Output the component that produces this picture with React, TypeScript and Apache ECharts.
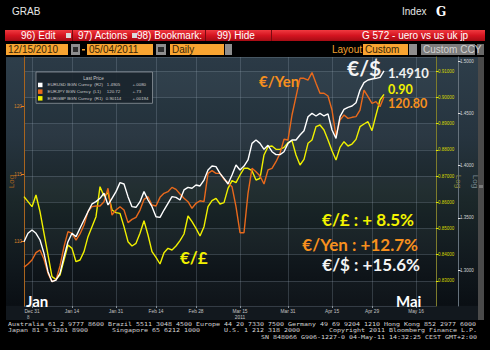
import React, { useEffect, useRef } from "react";
import * as echarts from "echarts";

// ---- data (daily closes, Dec 29 2010 .. May 4 2011, weekdays) ----
const USD = [
  1.3271, 1.3351, 1.3383, 1.3351, 1.3287, 1.3159, 1.2984, 1.2888, 1.2904, 1.2968,
  1.3128, 1.3271, 1.3351, 1.3319, 1.3399, 1.3478, 1.3558, 1.3632, 1.3654, 1.3686,
  1.3734, 1.3622, 1.3686, 1.375, 1.3836, 1.3823, 1.3702, 1.3606, 1.36, 1.3654,
  1.375, 1.367, 1.3606, 1.351, 1.3504, 1.3574, 1.3638, 1.3702, 1.3695, 1.367,
  1.3766, 1.3791, 1.3782, 1.3813, 1.3804, 1.3861, 1.3957, 1.3995, 1.3989,
  1.3925, 1.3877, 1.3823, 1.3909, 1.4005, 1.3957, 1.3995, 1.4053, 1.4212, 1.4244,
  1.4212, 1.4155, 1.4193, 1.4132, 1.4104, 1.4104, 1.4132, 1.4212, 1.4244, 1.4244,
  1.4292, 1.4333, 1.4467, 1.4499, 1.4474, 1.4499, 1.4474, 1.4493, 1.434, 1.426,
  1.4467, 1.4537, 1.4557, 1.4569, 1.4601, 1.4722, 1.4793, 1.4818, 1.4828, 1.4834,
  1.4844, 1.4905,
];
const JPY = [
  108.09, 108.33, 108.63, 109.17, 109.37, 108.68, 107.64, 107.02, 107.15, 108.19,
  109.62, 110.73, 110.6, 110.11, 110.56, 111.22, 112.21, 112.58, 112.63, 112.63,
  112.95, 113.94, 111.96, 112.33, 112.58, 112.33, 111.4, 111.64, 111.79, 112.33,
  113.12, 113.32, 112.7, 112.63, 113.27, 113.57, 113.69, 114.01, 113.86, 113.52,
  113.2, 112.95, 112.46, 112.83, 113.02, 112.95, 115.05, 115.25, 115.05,
  115.05, 114.6, 114.36, 114.06, 112.58, 110.65, 110.65, 113.57, 115.42, 115.17,
  114.85, 114.26, 115.3, 115.42, 115.91, 116.53, 117.57, 117.52, 119.37, 120.73,
  122.09, 122.09, 121.96, 122.51, 121.72, 120.98, 120.98, 120.78, 119.74, 117.81,
  119.0, 119.37, 119.12, 119.2, 119.25, 119.74, 121.22, 120.73, 120.23, 120.36,
  119.99, 120.72,
];
const GBP = [
  0.86211, 0.8602, 0.8583, 0.86275, 0.85639, 0.84812, 0.83985, 0.83158, 0.83056, 0.83221,
  0.83794, 0.84366, 0.84239, 0.8373, 0.83794, 0.84112, 0.84684, 0.85066, 0.85448, 0.86593,
  0.86237, 0.86364, 0.85702, 0.85601, 0.85575, 0.85066, 0.84494, 0.84328, 0.8443, 0.84812,
  0.85295, 0.84748, 0.84112, 0.83896, 0.83641, 0.84074, 0.84239, 0.84176, 0.84328, 0.84532,
  0.84786, 0.85473, 0.85257, 0.85003, 0.8471, 0.85066, 0.8583, 0.86059, 0.86148,
  0.85931, 0.85982, 0.86529, 0.86822, 0.86746, 0.87038, 0.87293, 0.87293, 0.87204, 0.86847,
  0.86911, 0.87802, 0.8812, 0.88145, 0.88018, 0.88018, 0.88094, 0.88272, 0.88349, 0.87802,
  0.8742, 0.87636, 0.88247, 0.88374, 0.88883, 0.88947, 0.88756, 0.88374, 0.87967, 0.87611,
  0.88094, 0.8831, 0.88145, 0.88221, 0.88399, 0.88883, 0.88985, 0.89074, 0.8873, 0.89328,
  0.89901, 0.90114,
];

const SERIES_NAMES = ["EURUSD BGN Curncy", "EURJPY BGN Curncy", "EURGBP BGN Curncy"];
const SERIES_AXES = ["R2", "L1", "R1"];
const LAST_PRICES = ["1.4905", "120.72", "0.90114"];
const LAST_VALUES = [1.4905, 120.72, 0.90114];
const CHANGES = ["+.0080", "+.73", "+.00194"];

const TICK_DATES = ["Dec 31", "Jan 14", "Jan 31", "Feb 14", "Feb 28", "Mar 15", "Mar 31", "Apr 15", "Apr 29", "May 16"];
const YEAR_DATE = "Mar 15";
const YEAR_TEXT = "2011";
const MONTHS = ["Jan", "Feb", "Mar", "Apr", "May", "Jun", "Jul", "Aug", "Sep", "Oct", "Nov", "Dec"];
const FIRST_DAY = Date.UTC(2010, 11, 29);
const DAY_COUNT = 104;

const FOOTER_1 = "Australia 61 2 9777 8600 Brazil 5511 3048 4500 Europe 44 20 7330 7500 Germany 49 69 9204 1210 Hong Kong 852 2977 6000";
const FOOTER_2 = ["Japan 81 3 3201 8900", "Singapore 65 6212 1000", "U.S. 1 212 318 2000", "Copyright 2011 Bloomberg Finance L.P."];
const FOOTER_3 = "SN 848066 G906-1227-0 04-May-11 14:32:25 CEST GMT+2:00";

function buildCategories(): string[] {
  const out: string[] = [];
  let t = FIRST_DAY;
  while (out.length < DAY_COUNT) {
    const d = new Date(t);
    const wd = d.getUTCDay();
    if (wd !== 0 && wd !== 6) out.push(MONTHS[d.getUTCMonth()] + " " + d.getUTCDate());
    t += 86400000;
  }
  return out;
}

const isTick = (_i: number, v: string) => TICK_DATES.includes(v);

function txt(x: number, y: number, text: string, style: any, z = 50, extra: any = {}) {
  return {
    type: "text",
    x,
    y,
    z,
    silent: true,
    ...extra,
    style: {
      text,
      fill: "#ffffff",
      fontFamily: "Liberation Sans",
      fontSize: 10,
      align: "left",
      textAlign: "left",
      verticalAlign: "middle",
      textVerticalAlign: "middle",
      ...style,
      ...(style.align ? { textAlign: style.align } : {}),
    },
  };
}

function rect(x: number, y: number, w: number, h: number, fill: any, z = 40) {
  return { type: "rect", z, silent: true, shape: { x, y, width: w, height: h }, style: { fill } };
}

function buildGraphic() {
  const g: any[] = [];
  // panel background
  g.push(
    rect(6, 57, 472, 263, {
      type: "linear",
      x: 0, y: 0, x2: 0, y2: 1,
      colorStops: [
        { offset: 0, color: "#2e3e4a" },
        { offset: 0.3, color: "#26343f" },
        { offset: 0.55, color: "#1b2729" },
        { offset: 0.78, color: "#11191e" },
        { offset: 0.94, color: "#0a0f14" },
        { offset: 1, color: "#141a20" },
      ],
    }, -20)
  );
  g.push(rect(6, 306, 472, 14, "#12181e", -19));
  // scrollbar
  g.push(rect(478, 57, 6, 263, "#4a4a4a", -19));
  g.push(rect(479, 185, 4, 3, "#7a7a7a", -18));

  // header
  const hdrFont = { fontFamily: "Liberation Sans", fontSize: 10, fill: "#e6e6e6" };
  g.push(txt(12, 11.5, "GRAB", hdrFont));
  g.push(txt(402, 11.5, "Index", hdrFont));
  g.push(txt(436, 11.5, "G", { fontFamily: "DejaVu Serif", fontWeight: "bold", fontSize: 12, fill: "#ffffff" }));

  // red menu bar
  g.push(
    rect(5, 30, 480, 11, {
      type: "linear",
      x: 0, y: 0, x2: 0, y2: 1,
      colorStops: [
        { offset: 0, color: "#f03a40" },
        { offset: 0.5, color: "#d41420" },
        { offset: 1, color: "#a60c14" },
      ],
    })
  );
  [72, 205, 271].forEach((x) => g.push(rect(x, 30, 1, 11, "#7a0a10", 41)));
  g.push(rect(66, 33, 5, 5, "#d9d9d9", 41));
  g.push(rect(132, 33, 5, 5, "#d9d9d9", 41));
  const barFont = { fontFamily: "Liberation Sans", fontSize: 10, fill: "#ffffff" };
  g.push(txt(21, 35.8, "96) Edit", barFont));
  g.push(txt(78, 35.8, "97) Actions", barFont));
  g.push(txt(137, 35.8, "98) Bookmark:", barFont));
  g.push(txt(217, 35.8, "99) Hide", barFont));
  g.push(txt(362, 35.8, "G 572 - uero vs us uk jp", barFont));

  // input row
  const boxFont = { fontFamily: "Liberation Sans", fontSize: 10, fill: "#3a2708", lineHeight: 11 };
  const orange = "#f9a531";
  g.push(rect(6, 44, 62, 11, orange));
  g.push(txt(8, 49.6, "12/15/2010", boxFont));
  g.push(rect(71, 44, 9, 11, "#8e8e8e"));
  g.push(rect(73, 47, 5, 5, "#2e2e2e", 41));
  g.push(rect(82, 49, 3, 1.5, orange));
  g.push(rect(87, 44, 66, 11, orange));
  g.push(txt(89, 49.6, "05/04/2011", boxFont));
  g.push(rect(156, 44, 10, 11, "#8e8e8e"));
  g.push(rect(158, 47, 6, 5, "#2e2e2e", 41));
  g.push(rect(170, 44, 54, 11, orange));
  g.push(txt(172, 49.6, "Daily", boxFont));
  g.push(rect(225, 44, 7, 11, "#8e8e8e"));
  g.push(txt(332, 49.6, "Layout", { fontFamily: "Liberation Sans", fontSize: 10, fill: "#f0a030", lineHeight: 11 }));
  g.push(rect(363, 44, 45, 11, orange));
  g.push(txt(365, 49.6, "Custom", boxFont));
  g.push(rect(409, 44, 8, 11, "#8e8e8e"));
  g.push(rect(421, 44, 54, 11, "#7c7c7c"));
  g.push(txt(423, 49.6, "Custom CCY", { fontFamily: "Liberation Sans", fontSize: 10, fill: "#d2d2d2", lineHeight: 11 }));
  g.push(rect(477, 44, 7, 11, "#6a6a6a"));

  // legend title
  g.push(txt(93.5, 78.3, "Last Price", { fontFamily: "Liberation Sans", fontSize: 4.6, fill: "#c8c8c8", align: "center" }, 60));

  // annotations
  const ann = (x: number, y: number, t: string, size: number, fill: string, align = "left") =>
    txt(x, y, t, { fontFamily: "Lato", fontWeight: "bold", fontSize: size, lineHeight: size * 0.96, fill, align }, 60);
  g.push(ann(347, 67, "€/$", 21, "#f4f4f4"));
  g.push(ann(388, 72.5, "1.4910", 13, "#f0f0f0"));
  g.push(ann(388, 89.2, "0.90", 12.5, "#f2f200"));
  g.push(ann(388, 103.8, "120.80", 12.5, "#f7901e"));
  g.push(ann(259, 81, "€/Yen", 15, "#f7901e"));
  g.push(ann(180, 257.5, "€/£", 17, "#f2f200"));
  g.push(ann(414, 219, "€/£ : + 8.5%", 17, "#f2f200", "right"));
  g.push(ann(418, 244, "€/Yen : +12.7%", 17, "#f7901e", "right"));
  g.push(ann(420, 264.5, "€/$ : +15.6%", 17, "#f4f4f4", "right"));
  g.push(ann(26, 300.5, "Jan", 15, "#ffffff"));
  g.push(ann(396, 300.5, "Mai", 15, "#ffffff"));
  g.push(txt(27, 317, "8", { fontFamily: "Liberation Sans", fontSize: 4.5, fill: "#b0b0b0" }));

  // footer (monospace, widened to the terminal's character pitch)
  const foot = { fontFamily: "DejaVu Sans Mono", fontSize: 5.5, fill: "#d4d4d4" };
  const wide = { scaleX: 1.21 };
  g.push(txt(8, 323.6, FOOTER_1, foot, 50, wide));
  g.push(txt(8, 330.2, FOOTER_2[0], foot, 50, wide));
  g.push(txt(112, 330.2, FOOTER_2[1], foot, 50, wide));
  g.push(txt(224, 330.2, FOOTER_2[2], foot, 50, wide));
  g.push(txt(477, 330.2, FOOTER_2[3], { ...foot, align: "right" }, 50, wide));
  g.push(txt(477, 336.8, FOOTER_3, { ...foot, align: "right" }, 50, wide));
  return g;
}

function tagLabel(text: string, pos: string, distance: number, bg: string, color: string) {
  return {
    show: true,
    position: pos,
    distance,
    formatter: text,
    backgroundColor: bg,
    color,
    fontSize: 4.6,
    fontFamily: "Liberation Sans",
    padding: [1, 2, 1, 2],
  };
}

function buildOption() {
  const cats = buildCategories();
  const labelFont = "Liberation Sans";
  const split = "rgba(150,168,180,0.26)";
  const legendText = { fontSize: 4.4, fontFamily: labelFont, color: "#c8c8c8", lineHeight: 6.5 };
  return {
    animation: false,
    backgroundColor: "#000000",
    grid: { left: 24, right: 54, top: 57, bottom: 44, containLabel: false, outerBoundsMode: "none" },
    legend: {
      data: SERIES_NAMES,
      orient: "vertical",
      left: 36,
      top: 72,
      icon: "rect",
      itemWidth: 4.5,
      itemHeight: 4.5,
      itemGap: 0.2,
      selectedMode: false,
      padding: [9.7, 4, 1.7, 2],
      backgroundColor: "rgba(26,36,44,0.92)",
      borderColor: "#8e959c",
      borderWidth: 0.8,
      textStyle: {
        ...legendText,
        rich: {
          n: { ...legendText, width: 57 },
          v: { ...legendText, width: 18, align: "right" },
          c: { ...legendText, padding: [0, 0, 0, 10] },
        },
      },
      formatter: (name: string) => {
        const i = SERIES_NAMES.indexOf(name);
        return `{n|${name}  (${SERIES_AXES[i]})}{v|${LAST_PRICES[i]}}{c|${CHANGES[i]}}`;
      },
    },
    xAxis: {
      type: "category",
      data: cats,
      boundaryGap: false,
      axisLine: { show: false },
      axisTick: { show: true, length: 2, interval: isTick, lineStyle: { color: "#8a949c" } },
      axisLabel: {
        interval: isTick,
        color: "#c4c4c4",
        fontSize: 4.8,
        fontFamily: labelFont,
        margin: 2.5,
        lineHeight: 6,
        formatter: (v: string) => (v === YEAR_DATE ? `${v}\n${YEAR_TEXT}` : v),
      },
      splitLine: { show: true, interval: isTick, lineStyle: { color: split, width: 1 } },
    },
    yAxis: [
      {
        type: "value",
        position: "right",
        offset: 0,
        min: 0.820382,
        max: 0.91542,
        splitNumber: 9,
        alignTicks: false,
        axisLine: { show: true, lineStyle: { color: "#7e7c2c", width: 1 } },
        axisTick: { show: true, length: 2.5, lineStyle: { color: "#e6e600" } },
        axisLabel: {
          color: "#d8d800",
          fontSize: 4.5,
          fontFamily: labelFont,
          margin: 2,
          showMinLabel: false,
          showMaxLabel: false,
          formatter: (v: number) => v.toFixed(5),
        },
        splitLine: { show: true, lineStyle: { color: split, width: 1 } },
        splitArea: { show: true, areaStyle: { color: ["rgba(255,255,255,0.025)", "rgba(0,0,0,0.05)"] } },
        name: "Log",
        nameLocation: "middle",
        nameRotate: -90,
        nameGap: 18,
        nameMoveOverlap: false,
        nameTextStyle: { color: "#8c8a3a", fontSize: 8, fontFamily: labelFont },
      },
      {
        type: "value",
        position: "right",
        offset: 22,
        min: 1.26555,
        max: 1.50383,
        splitNumber: 5,
        alignTicks: false,
        axisLine: { show: true, lineStyle: { color: "#66727c", width: 1 } },
        axisTick: { show: true, length: 2.5, lineStyle: { color: "#e0e0e0" } },
        axisLabel: {
          color: "#d4d4d4",
          fontSize: 4.5,
          fontFamily: labelFont,
          margin: 2,
          showMinLabel: false,
          showMaxLabel: false,
          formatter: (v: number) => v.toFixed(4),
        },
        splitLine: { show: false },
        name: "Log",
        nameLocation: "middle",
        nameRotate: -90,
        nameGap: 13,
        nameMoveOverlap: false,
        nameTextStyle: { color: "#7c8a92", fontSize: 8, fontFamily: labelFont },
      },
      {
        type: "value",
        position: "left",
        min: 105.222,
        max: 123.667,
        splitNumber: 4,
        alignTicks: false,
        axisLine: { show: true, lineStyle: { color: "#a8641e", width: 1 } },
        axisTick: { show: true, length: 3, lineStyle: { color: "#e8801e" } },
        axisLabel: {
          color: "#d8822a",
          fontSize: 4.8,
          fontFamily: labelFont,
          margin: 2,
          showMinLabel: false,
          showMaxLabel: false,
          formatter: (v: number) => String(Math.round(v)),
        },
        splitLine: { show: false },
        name: "Log",
        nameLocation: "middle",
        nameRotate: 90,
        nameGap: 9,
        nameMoveOverlap: false,
        nameTextStyle: { color: "#a8641e", fontSize: 8, fontFamily: labelFont },
      },
    ],
    series: [
      {
        name: SERIES_NAMES[2],
        type: "line",
        yAxisIndex: 0,
        data: GBP,
        color: "#f0f000",
        showSymbol: false,
        symbol: "none",
        lineStyle: { width: 1.4, color: "#f0f000" },
        markLine: {
          silent: true,
          symbol: "none",
          data: [{ yAxis: LAST_VALUES[2] }],
          lineStyle: { opacity: 0 },
          label: tagLabel(LAST_PRICES[2], "end", 1, "#e2e200", "#1e1e00"),
        },
      },
      {
        name: SERIES_NAMES[1],
        type: "line",
        yAxisIndex: 2,
        data: JPY,
        color: "#e8691c",
        showSymbol: false,
        symbol: "none",
        lineStyle: { width: 1.4, color: "#e8691c" },
        markLine: {
          silent: true,
          symbol: "none",
          data: [{ yAxis: LAST_VALUES[1] }],
          lineStyle: { opacity: 0 },
          label: tagLabel(LAST_PRICES[1], "start", 1, "#ee8a22", "#2a1600"),
        },
      },
      {
        name: SERIES_NAMES[0],
        type: "line",
        yAxisIndex: 1,
        data: USD,
        color: "#ffffff",
        showSymbol: false,
        symbol: "none",
        lineStyle: { width: 1.4, color: "#ffffff" },
        markLine: {
          silent: true,
          symbol: "none",
          data: [{ yAxis: LAST_VALUES[0] }],
          lineStyle: { opacity: 0 },
          label: tagLabel(LAST_PRICES[0], "end", 23, "#d8dde0", "#1a1a1a"),
        },
      },
    ],
    graphic: buildGraphic(),
  };
}

export default function App() {
  const ref = useRef<HTMLDivElement>(null);
  useEffect(() => {
    const el = ref.current;
    if (!el) return;
    const chart = echarts.init(el, null, { renderer: "svg" });
    chart.setOption(buildOption() as any);
    return () => chart.dispose();
  }, []);
  return (
    <div
      ref={ref}
      style={{ position: "fixed", left: 0, top: 0, width: 490, height: 350, background: "#000" }}
    />
  );
}
